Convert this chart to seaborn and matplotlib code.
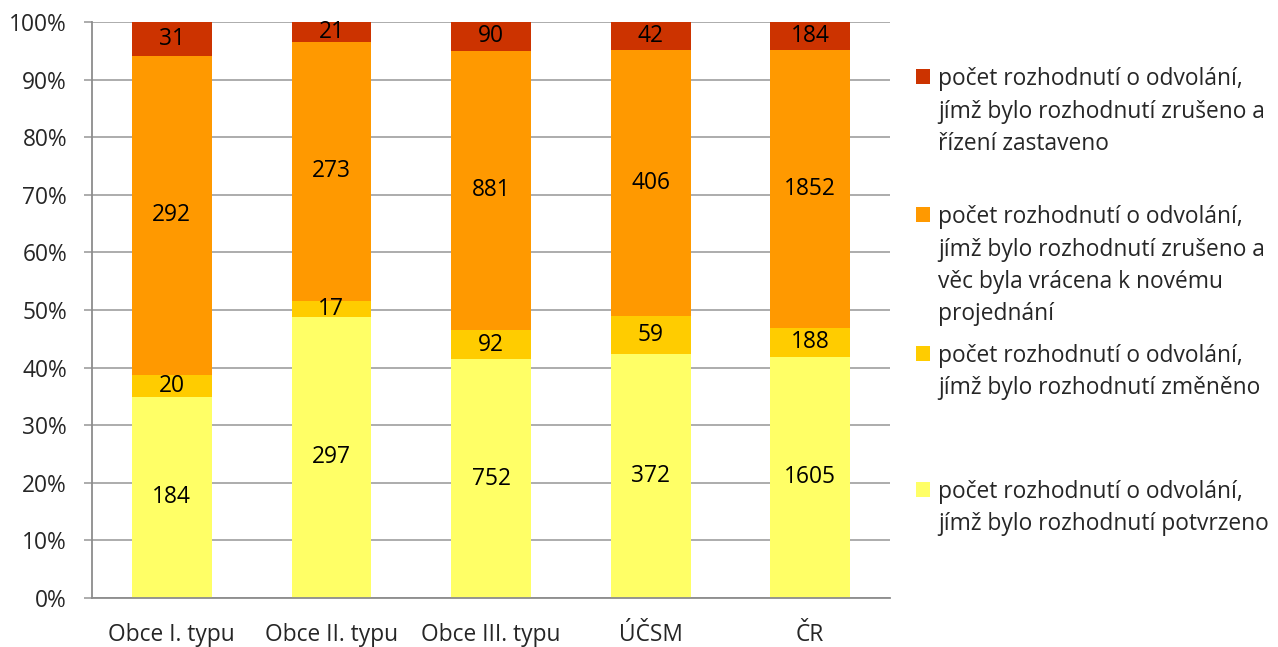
import numpy as np
import pandas as pd
import seaborn as sns
import matplotlib.pyplot as plt
from matplotlib.patches import Rectangle
from matplotlib.ticker import PercentFormatter, FixedLocator

categories = ["Obce I. typu", "Obce II. typu", "Obce III. typu", "ÚČSM", "ČR"]
potvrzeno = [184, 297, 752, 372, 1605]
zmeneno = [20, 17, 92, 59, 188]
vraceno = [292, 273, 881, 406, 1852]
zastaveno = [31, 21, 90, 42, 184]

# legend texts, already broken into lines like in the original
labels = {
    "zastaveno": ["počet rozhodnutí o odvolání,",
                  "jímž bylo rozhodnutí zrušeno a",
                  "řízení zastaveno"],
    "vraceno": ["počet rozhodnutí o odvolání,",
                "jímž bylo rozhodnutí zrušeno a",
                "věc byla vrácena k novému",
                "projednání"],
    "zmeneno": ["počet rozhodnutí o odvolání,",
                "jímž bylo rozhodnutí změněno"],
    "potvrzeno": ["počet rozhodnutí o odvolání,",
                  "jímž bylo rozhodnutí potvrzeno"],
}
colors = {"potvrzeno": "#FFFF66", "zmeneno": "#FFCC00",
          "vraceno": "#FF9900", "zastaveno": "#CC3300"}

df = pd.DataFrame({"potvrzeno": potvrzeno, "zmeneno": zmeneno,
                   "vraceno": vraceno, "zastaveno": zastaveno},
                  index=categories)
pct = df.div(df.sum(axis=1), axis=0) * 100
cum = pct.cumsum(axis=1)

sns.set_style("white")
plt.rcParams["font.family"] = ["Open Sans", "DejaVu Sans"]
FS = 16.4

W, H = 1278, 647
fig = plt.figure(figsize=(W / 100, H / 100), dpi=100)
ax = fig.add_axes([92 / W, 1 - 598 / H, (890 - 92) / W, (598 - 22) / H])

# stacked bars: draw cumulative heights, tallest first
for col in ["zastaveno", "vraceno", "zmeneno", "potvrzeno"]:
    sns.barplot(x=categories, y=cum[col].values, color=colors[col],
                saturation=1, width=0.5, linewidth=0, ax=ax, zorder=2)

for i, cat in enumerate(categories):
    for col in df.columns:
        ax.text(i, cum.loc[cat, col] - pct.loc[cat, col] / 2,
                str(df.loc[cat, col]), ha="center", va="center",
                fontsize=FS, color="black", zorder=3)

ax.set_xlim(-0.5, 4.5)
ax.set_ylim(0, 100)
ax.yaxis.set_major_locator(FixedLocator(np.arange(0, 101, 10)))
ax.yaxis.set_major_formatter(PercentFormatter(decimals=0))
ax.grid(axis="y", color="#A6A6A6", linewidth=1.3, zorder=0)
ax.set_axisbelow(True)

ax.xaxis.set_major_locator(FixedLocator(np.arange(-0.5, 5, 1)))
ax.xaxis.set_minor_locator(FixedLocator(np.arange(0, 5)))
ax.set_xticklabels([], minor=False)
ax.set_xticklabels(categories, minor=True)
ax.tick_params(axis="x", which="major", length=6, width=1.3,
               color="#8C8C8C", direction="out")
ax.tick_params(axis="x", which="minor", length=0, pad=18, labelsize=FS)
ax.tick_params(axis="y", length=6, width=1.3, color="#A6A6A6",
               pad=12, labelsize=FS, left=True)
ax.set_xlabel("")
ax.set_ylabel("")

for side in ["top", "right"]:
    ax.spines[side].set_visible(False)
for side in ["left", "bottom"]:
    ax.spines[side].set_color("#8C8C8C")
    ax.spines[side].set_linewidth(1.3)

# legend, placed line by line (pixel baselines from the original)
first_baseline = {"zastaveno": 85, "vraceno": 223,
                  "zmeneno": 362, "potvrzeno": 498}
for col, base in first_baseline.items():
    fig.patches.append(Rectangle((916 / W, 1 - (base - 1) / H), 14 / W, 15 / H,
                                 transform=fig.transFigure,
                                 facecolor=colors[col], edgecolor="none"))
    for k, line in enumerate(labels[col]):
        fig.text(938 / W, 1 - (base + 32.5 * k) / H, line,
                 fontsize=FS, va="baseline", ha="left")

fig.savefig("out.png", dpi=100)
